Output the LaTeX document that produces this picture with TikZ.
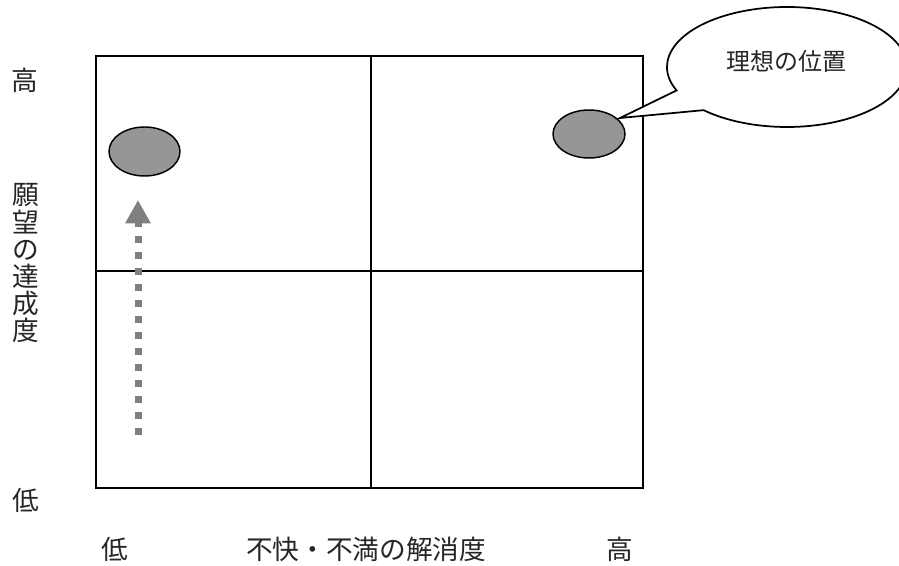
\documentclass[tikz,border=0pt]{standalone}
\usepackage{fontspec}
\newfontfamily\jp{Noto Sans CJK JP}
\usetikzlibrary{arrows.meta}
\definecolor{dotfill}{HTML}{969696}
\definecolor{arrowgray}{HTML}{808080}
\begin{document}
\begin{tikzpicture}[x=0.75pt,y=-0.75pt,
  gridline/.style={draw=black,line width=1.5pt},
  spot/.style={draw=black,line width=1.1pt,fill=dotfill},
  lbl/.style={font=\jp\fontsize{20}{20.4}\selectfont,inner sep=0pt,text=black!85},
  calltext/.style={font=\jp\fontsize{18}{18}\selectfont,inner sep=0pt,text=black!85},
  uparrow/.style={draw=arrowgray,line width=5.25pt,dash pattern=on 5.25pt off 6.75pt,
     -{Triangle[width=18pt,length=17.5pt,fill=arrowgray]}}]
\useasboundingbox (0,0) rectangle (899,566);
\fill[white] (0,0) rectangle (899,566);
% grid
\draw[gridline] (96,56) rectangle (643,488);
\coordinate (vt) at (371,56);
\coordinate (vb) at (371,488);
\coordinate (hl) at (96,271);
\coordinate (hr) at (643,271);
\draw[gridline] (vt) -- (vb);
\draw[gridline] (hl) -- (hr);
% spots
\path[spot] (144.5,151.5) ellipse [x radius=35.5, y radius=24.5];
\node (spotA) at (144.5,151.5) {};
\path[spot] (589,134) ellipse [x radius=36, y radius=24];
\node (spotB) at (589,134) {};
% arrow
\coordinate (arrbot) at (138,435);
\coordinate (arrtop) at (138,200);
\draw[uparrow] (arrbot) -- (arrtop);
% callout
\begin{scope}
\clip (0,0) rectangle (899,566);
\draw[line width=1.3pt,fill=white,line join=miter]
  (787,67) ++(157:120 and 60)
  arc[start angle=157,end angle=494,x radius=120,y radius=60]
  -- (620,118) -- cycle;
\end{scope}
\node[calltext] (ideal) at (786,61) {理想の位置};
% labels
\node[lbl] (yhigh) at (25,80) {高};
\node[lbl,align=center] (ylabel) at (26,263.5) {願\\望\\の\\達\\成\\度};
\node[lbl] (ylow) at (26,500) {低};
\node[lbl] (xlow) at (115,549) {低};
\node[lbl] (xlabel) at (366,549) {不快・不満の解消度};
\node[lbl] (xhigh) at (620,549) {高};
\end{tikzpicture}
\end{document}
